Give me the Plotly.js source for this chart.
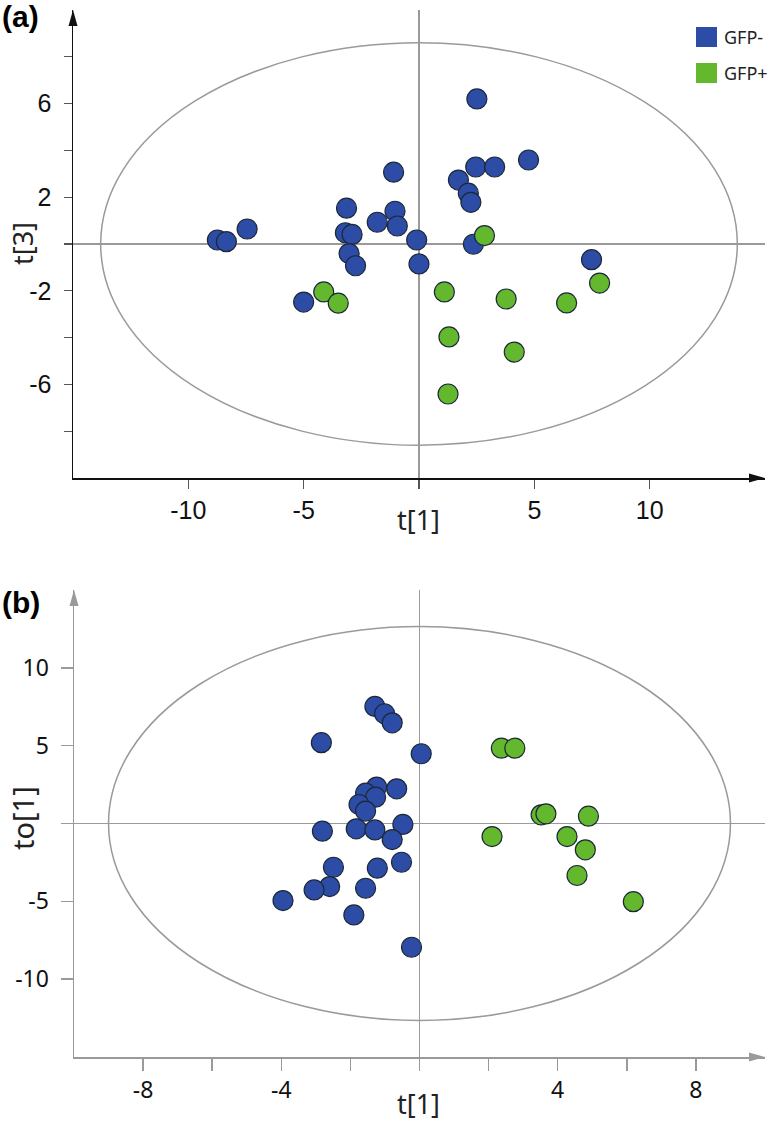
<!DOCTYPE html>
<html><head><meta charset="utf-8">
<script src="https://cdn.plot.ly/plotly-3.0.1.min.js"></script>
<style>html,body{margin:0;padding:0;background:#fff}#chart{width:774px;height:1122px}</style>
</head><body><div id="chart"></div>
<script>
// ---------- data ----------
const groups = ['GFP-', 'GFP+'];

// Panel (a): t[1] vs t[3]
const aBlueX = [-8.74, -8.35, -7.45, -3.14, -3.19, -2.90, -1.81, -1.10, -1.04, -0.94, -3.03, -2.75, -5.00,
                 2.51, 4.75, 2.46, 3.28, 1.71, 2.14, 2.25, -0.10, 2.36, 7.48, 0.00];
const aBlueY = [0.17, 0.10, 0.64, 1.53, 0.48, 0.41, 0.93, 3.07, 1.40, 0.77, -0.41, -0.93, -2.48,
                6.20, 3.59, 3.29, 3.29, 2.73, 2.17, 1.78, 0.17, -0.01, -0.67, -0.85];
const aGreenX = [-4.13, -3.50, 2.84, 1.10, 7.83, 3.78, 6.40, 1.30, 4.13, 1.26];
const aGreenY = [-2.05, -2.53, 0.36, -2.05, -1.67, -2.35, -2.52, -3.97, -4.62, -6.41];

// Panel (b): t[1] vs to[1]
const bBlueX = [-1.29, -1.01, -0.79, -2.84, 0.05, -1.24, -0.66, -1.56, -1.27, -1.75, -1.56,
                -2.81, -1.83, -1.29, -0.48, -0.79, -2.49, -1.22, -0.52, -2.60, -3.05, -1.56, -3.95, -1.90, -0.23];
const bBlueY = [7.52, 7.05, 6.47, 5.19, 4.48, 2.34, 2.23, 1.95, 1.69, 1.22, 0.80,
                -0.49, -0.34, -0.41, -0.06, -1.03, -2.81, -2.87, -2.49, -4.05, -4.27, -4.16, -4.95, -5.87, -7.95];
const bGreenX = [2.37, 2.76, 3.52, 3.66, 4.89, 2.10, 4.27, 4.80, 4.56, 6.19];
const bGreenY = [4.84, 4.84, 0.56, 0.62, 0.47, -0.84, -0.84, -1.69, -3.34, -5.02];

// Hotelling T2 ellipse semi-axes
const ellipseA = [13.8, 8.6];
const ellipseB = [9.0, 12.65];

// tick labels
const aXTicks = [-10, -5, 0, 5, 10];
const aXText  = ['-10', '-5', '', '5', '10'];
const aYTicks = [-8, -6, -4, -2, 0, 2, 4, 6, 8];
const aYText  = ['', '-6', '', '-2', '', '2', '', '6', ''];
const bXTicks = [-8, -6, -4, -2, 0, 2, 4, 6, 8];
const bXText  = ['-8', '', '-4', '', '', '', '4', '', '8'];
const bYTicks = [-10, -5, 0, 5, 10];
const bYText  = ['-10', '-5', '', '5', '10'];

// ---------- style ----------
const BLUE = '#2c4ca6', GREEN = '#64b82e', EDGE = '#1c2838';
const GREY = '#9a9a9a';
const W = 774, H = 1122;
const px = v => v / W, py = v => 1 - v / H;

const aXdom = [px(73), px(765)], aYdom = [py(478), py(10)];
const bXdom = [px(74), px(765)], bYdom = [py(1057), py(590)];

// arrowhead (paper coords) : tip at (x,y); dir 'up' or 'right'; len/half-width in pixels
function arrow(x, y, dir, color) {
  const L = 16, Hw = 4.5;
  let p;
  if (dir === 'up') {
    p = `M${x - Hw / W},${y - L / H} L${x + Hw / W},${y - L / H} L${x},${y} Z`;
  } else {
    p = `M${x - L / W},${y - Hw / H} L${x - L / W},${y + Hw / H} L${x},${y} Z`;
  }
  return {type: 'path', xref: 'paper', yref: 'paper', path: p, fillcolor: color, line: {width: 0}};
}

function pts(x, y, col, xa, ya) {
  return {x: x, y: y, xaxis: xa, yaxis: ya, type: 'scatter', mode: 'markers', showlegend: false,
          hoverinfo: 'x+y',
          marker: {size: 20, color: col, line: {color: EDGE, width: 1.2}}};
}
const data = [
  pts(aBlueX, aBlueY, BLUE, 'x', 'y'),
  pts(aGreenX, aGreenY, GREEN, 'x', 'y'),
  pts(bBlueX, bBlueY, BLUE, 'x2', 'y2'),
  pts(bGreenX, bGreenY, GREEN, 'x2', 'y2')
];

const tfA = {family: 'Liberation Sans, Arial, sans-serif', size: 25, color: '#111'};
const tfB = {family: 'Noto Sans, sans-serif', size: 23, color: '#111'};
const common = {showgrid: false, zeroline: true, zerolinecolor: GREY, zerolinewidth: 1.5,
                showline: true, ticks: 'outside', tickmode: 'array', fixedrange: true};

const layout = {
  width: W, height: H, margin: {l: 0, r: 0, t: 0, b: 0},
  paper_bgcolor: '#fff', plot_bgcolor: '#fff', showlegend: false,
  xaxis: Object.assign({}, common, {domain: aXdom, range: [-15, 15], anchor: 'y',
          linecolor: '#111', linewidth: 1.5, tickcolor: '#555', ticklen: 9, tickwidth: 1.3,
          tickvals: aXTicks, ticktext: aXText, tickfont: tfA, ticklabelstandoff: 0}),
  yaxis: Object.assign({}, common, {domain: aYdom, range: [-10, 10], anchor: 'x',
          linecolor: '#111', linewidth: 1.5, tickcolor: '#555', ticklen: 8, tickwidth: 1.3,
          tickvals: aYTicks, ticktext: aYText, tickfont: tfA, ticklabelstandoff: 7}),
  xaxis2: Object.assign({}, common, {domain: bXdom, range: [-10, 10], anchor: 'y2',
          linecolor: GREY, linewidth: 1.5, tickcolor: GREY, ticklen: 12, tickwidth: 1.5,
          tickvals: bXTicks, ticktext: bXText, tickfont: tfB, ticklabelstandoff: 0}),
  yaxis2: Object.assign({}, common, {domain: bYdom, range: [-15, 15], anchor: 'x2',
          linecolor: GREY, linewidth: 1.5, tickcolor: GREY, ticklen: 12, tickwidth: 1.5,
          tickvals: bYTicks, ticktext: bYText, tickfont: tfB, ticklabelstandoff: 7}),
  shapes: [
    {type: 'circle', xref: 'x', yref: 'y', x0: -ellipseA[0], x1: ellipseA[0], y0: -ellipseA[1], y1: ellipseA[1],
     line: {color: GREY, width: 1.5}, layer: 'below'},
    {type: 'circle', xref: 'x2', yref: 'y2', x0: -ellipseB[0], x1: ellipseB[0], y0: -ellipseB[1], y1: ellipseB[1],
     line: {color: GREY, width: 1.5}, layer: 'below'},
    // axis arrowheads
    arrow(aXdom[0], aYdom[1], 'up', '#111'),
    arrow(aXdom[1], aYdom[0], 'right', '#111'),
    arrow(bXdom[0], bYdom[1], 'up', GREY),
    arrow(bXdom[1], bYdom[0], 'right', GREY),
    // legend swatches
    {type: 'rect', xref: 'paper', yref: 'paper', x0: px(696), x1: px(717), y0: py(47), y1: py(27),
     fillcolor: BLUE, line: {width: 0}},
    {type: 'rect', xref: 'paper', yref: 'paper', x0: px(696), x1: px(717), y0: py(83), y1: py(63),
     fillcolor: GREEN, line: {width: 0}}
  ],
  annotations: [
    {text: '<b>(a)</b>', xref: 'paper', yref: 'paper', x: 0, y: py(-2), xanchor: 'left', yanchor: 'top',
     showarrow: false, font: {family: 'Liberation Sans, Arial, sans-serif', size: 30, color: '#000'}},
    {text: '<b>(b)</b>', xref: 'paper', yref: 'paper', x: 0, y: py(584), xanchor: 'left', yanchor: 'top',
     showarrow: false, font: {family: 'Liberation Sans, Arial, sans-serif', size: 30, color: '#000'}},
    {text: 't[1]', xref: 'paper', yref: 'paper', x: px(418), y: py(519), xanchor: 'center', yanchor: 'middle',
     showarrow: false, font: {family: 'Noto Sans, sans-serif', size: 27, color: '#222'}},
    {text: 't[3]', xref: 'paper', yref: 'paper', x: px(22), y: py(244), xanchor: 'center', yanchor: 'middle',
     textangle: -90, showarrow: false, font: {family: 'Noto Sans, sans-serif', size: 27, color: '#222'}},
    {text: 't[1]', xref: 'paper', yref: 'paper', x: px(418), y: py(1103), xanchor: 'center', yanchor: 'middle',
     showarrow: false, font: {family: 'Noto Sans, sans-serif', size: 27, color: '#222'}},
    {text: 'to[1]', xref: 'paper', yref: 'paper', x: px(22), y: py(818), xanchor: 'center', yanchor: 'middle',
     textangle: -90, showarrow: false, font: {family: 'Noto Sans, sans-serif', size: 29, color: '#222'}},
    {text: groups[0], xref: 'paper', yref: 'paper', x: px(722), y: py(37), xanchor: 'left', yanchor: 'middle',
     showarrow: false, font: {family: 'Noto Sans, sans-serif', size: 18, color: '#222'}},
    {text: groups[1], xref: 'paper', yref: 'paper', x: px(722), y: py(73), xanchor: 'left', yanchor: 'middle',
     showarrow: false, font: {family: 'Noto Sans, sans-serif', size: 18, color: '#222'}}
  ]
};

Plotly.newPlot('chart', data, layout, {displayModeBar: false, staticPlot: true});
</script>
</body></html>
